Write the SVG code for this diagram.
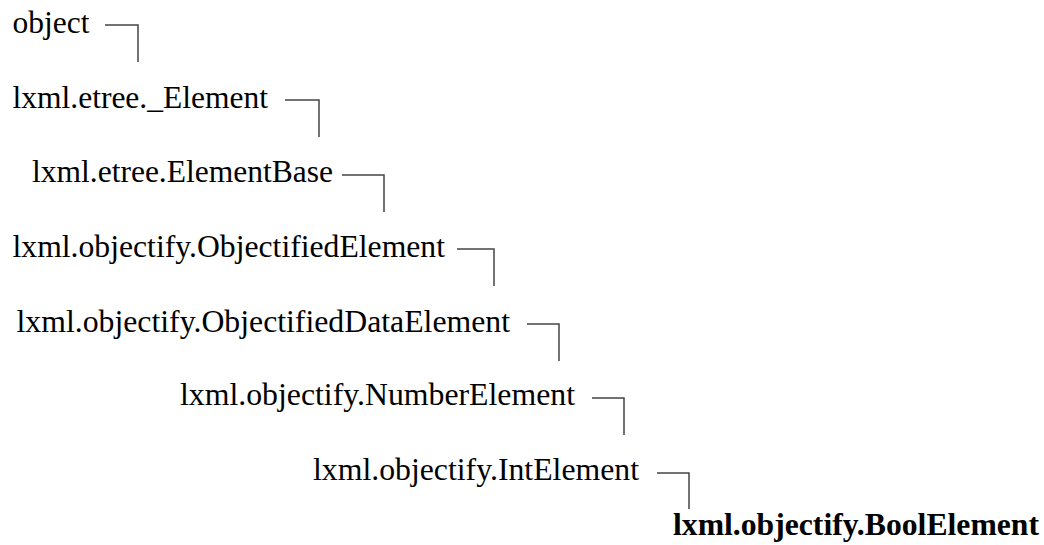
<svg xmlns="http://www.w3.org/2000/svg" width="1044" height="545" viewBox="0 0 1044 545">
<style>
  .t { font-family: 'Liberation Serif', 'Times New Roman', Times, serif; font-size: 31px; fill: #000; }
  .b { font-weight: bold; }
  .c { fill: none; stroke: #444; stroke-width: 1.5; }
</style>
<rect width="1044" height="545" fill="#fff"/>
<g id="n-object"><text class="t" x="12.5" y="33" textLength="77" lengthAdjust="spacingAndGlyphs">object</text></g>
<g id="n-etree-Element"><text class="t" x="12.5" y="108" textLength="255.5" lengthAdjust="spacingAndGlyphs">lxml.etree._Element</text></g>
<g id="n-ElementBase"><text class="t" x="32" y="182" textLength="301" lengthAdjust="spacingAndGlyphs">lxml.etree.ElementBase</text></g>
<g id="n-ObjectifiedElement"><text class="t" x="12.5" y="257" textLength="432.5" lengthAdjust="spacingAndGlyphs">lxml.objectify.ObjectifiedElement</text></g>
<g id="n-ObjectifiedDataElement"><text class="t" x="16.5" y="332" textLength="493.5" lengthAdjust="spacingAndGlyphs">lxml.objectify.ObjectifiedDataElement</text></g>
<g id="n-NumberElement"><text class="t" x="180" y="405" textLength="395" lengthAdjust="spacingAndGlyphs">lxml.objectify.NumberElement</text></g>
<g id="n-IntElement"><text class="t" x="313" y="480" textLength="326" lengthAdjust="spacingAndGlyphs">lxml.objectify.IntElement</text></g>
<g id="n-BoolElement"><text class="t b" x="673" y="535" textLength="366" lengthAdjust="spacingAndGlyphs">lxml.objectify.BoolElement</text></g>
<g id="connectors">
  <path class="c" d="M105,25 H138 V62"/>
  <path class="c" d="M285,100 H319 V137"/>
  <path class="c" d="M342,175 H384 V212"/>
  <path class="c" d="M457,249 H494 V286"/>
  <path class="c" d="M527,324 H559 V361"/>
  <path class="c" d="M592,398 H624 V435"/>
  <path class="c" d="M657,473 H689 V509"/>
</g>
</svg>
